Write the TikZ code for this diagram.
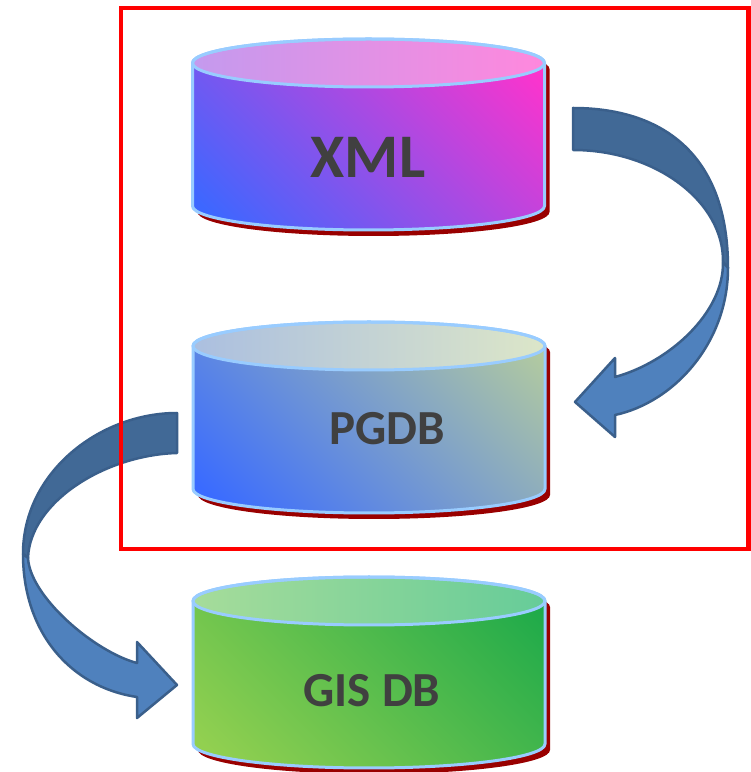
\documentclass[tikz,border=0pt]{standalone}
\usepackage{fontspec}
\setmainfont{Carlito}
\definecolor{shadowred}{HTML}{990000}
\definecolor{rimblue}{HTML}{99CCFF}
\definecolor{txtgray}{HTML}{404040}
\definecolor{arrowline}{HTML}{3A5F8B}
\definecolor{arrowdark}{HTML}{416996}
\definecolor{arrowlight}{HTML}{4F81BD}
\definecolor{xmlA}{HTML}{FF33CC}
\definecolor{xmlB}{HTML}{3D67FF}
\definecolor{xmlC}{HTML}{C49AEE}
\definecolor{xmlD}{HTML}{FF88DD}
\definecolor{pgA}{HTML}{B2CAA0}
\definecolor{pgB}{HTML}{3A6BFF}
\definecolor{pgC}{HTML}{ABBFE0}
\definecolor{pgD}{HTML}{DCE6C8}
\definecolor{gisA}{HTML}{1EAA4A}
\definecolor{gisB}{HTML}{92D050}
\definecolor{gisC}{HTML}{A6DC9A}
\definecolor{gisD}{HTML}{66CC99}
\newcommand\cylpath{(-176,0) -- (-176,-143) arc[start angle=180,end angle=360,x radius=176,y radius=24] -- (176,0) arc[start angle=0,end angle=180,x radius=176,y radius=24] -- cycle}
\newcommand\dbcyl[6]{%
 \fill[shadowred, shift={(#1+5,#2-6)}] \cylpath;
 \begin{scope}
  \clip[shift={(#1,#2)}] \cylpath;
  \fill[transform canvas={shift={(#1,#2-72)},rotate=45}, #4] (-200,-200) rectangle (0,200);
  \fill[transform canvas={shift={(#1,#2-72)},rotate=45}, #3] (0,-200) rectangle (200,200);
  \shade[transform canvas={shift={(#1,#2-72)},rotate=45}, left color=#4, right color=#3] (-168,-200) rectangle (168,200);
 \end{scope}
 \shade[shift={(#1,#2)}, left color=#5, right color=#6] (0,0) ellipse[x radius=176, y radius=24];
 \draw[rim, shift={(#1,#2)}] \cylpath;
 \draw[rim, shift={(#1,#2)}] (0,0) ellipse[x radius=176, y radius=24];
}
\tikzset{
 rim/.style={draw=rimblue, line width=3pt, line join=round},
 dblabel/.style={text=txtgray, inner sep=0pt, font=\bfseries},
 arrowback/.style={fill=arrowdark, draw=arrowline, line width=2.5pt, line join=round},
 arrowfront/.style={fill=arrowlight, draw=arrowline, line width=2.5pt, line join=round},
 frame/.style={draw=red, line width=4.5pt}
}
\begin{document}
\begin{tikzpicture}[x=1pt,y=1pt]
\useasboundingbox (0,0) rectangle (751,772);
% cylinders
\dbcyl{368.5}{709}{xmlA}{xmlB}{xmlC}{xmlD}
\dbcyl{369}{426}{pgA}{pgB}{pgC}{pgD}
\dbcyl{369}{171}{gisA}{gisB}{gisC}{gisD}
\node[dblabel, font=\bfseries\fontsize{62}{62}\selectfont] (xml) at (368,615) {XML};
\node[dblabel, font=\bfseries\fontsize{49}{49}\selectfont] (pgdb) at (387,343) {PGDB};
\node[dblabel, font=\bfseries\fontsize{49}{49}\selectfont] (gis) at (372,81) {GIS DB};
% right curved arrow (XML -> PGDB)
\draw[arrowback] (573,664) .. controls (660,664) and (728,620) .. (728,504)
  -- (723,510) .. controls (724,570) and (656,622) .. (573,622) -- cycle;
\draw[arrowfront] (728,504) .. controls (728,430) and (675,370) .. (615,357)
  -- (615,335) -- (575,370) -- (615,414) -- (615,395)
  .. controls (670,410) and (724,460) .. (723,510) -- cycle;
% left curved arrow (PGDB -> GIS DB)
\draw[arrowback] (177,359) .. controls (100,359) and (23,300) .. (23,218)
  -- (28,214) .. controls (30,270) and (105,317) .. (177,319) -- cycle;
\draw[arrowfront] (23,218) .. controls (23,140) and (70,85) .. (137,75)
  -- (137,54) -- (177,87) -- (137,130) -- (137,109)
  .. controls (95,120) and (30,175) .. (28,214) -- cycle;
% red frame
\draw[frame] (121,764) rectangle (748.5,223);
\end{tikzpicture}
\end{document}
